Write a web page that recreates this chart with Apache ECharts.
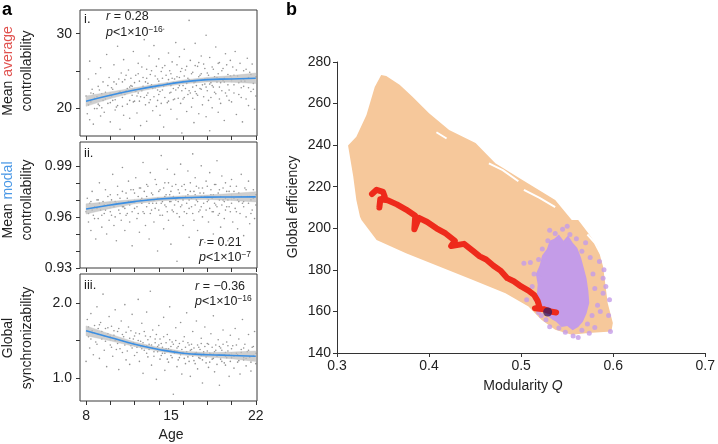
<!DOCTYPE html>
<html><head><meta charset="utf-8">
<script src="https://cdn.jsdelivr.net/npm/echarts@6/dist/echarts.min.js"></script>
<style>html,body{margin:0;padding:0;background:#fff}#c{width:718px;height:444px}</style>
</head><body><div id="c"></div>
<script>
// ---------- Panel a data ----------
const ageTicks = [8,10,12,14,16,18,20,22];
const ageLabels = [8,15,22];
const fitAges = [8,10,12,14,16,18,20,22];

const fitAvg = [20.9,21.7,22.4,23.0,23.5,23.8,23.9,24.0];
const bandAvg = [0.7,0.45,0.3,0.25,0.25,0.3,0.45,0.7];
const fitModal = [0.9647,0.9670,0.9690,0.9705,0.9713,0.9716,0.9717,0.9718];
const bandModal = [0.003,0.002,0.0013,0.0011,0.0011,0.0013,0.002,0.003];
const fitSync = [1.63,1.54,1.45,1.38,1.33,1.31,1.30,1.29];
const bandSync = [0.065,0.045,0.03,0.025,0.025,0.03,0.045,0.07];

const avgTickVals = [20,25,30], avgLabelVals = [20,30];
const modalTickVals = [0.93,0.94,0.95,0.96,0.97,0.98,0.99], modalLabelVals = [0.93,0.96,0.99];
const syncTickVals = [1.0,1.5,2.0], syncLabelVals = [1.0,2.0];

const avgPoints = [
[8.0,21.6],[8.1,19.2],[8.2,23.9],[8.3,26.3],[8.3,18.4],[8.4,20.8],[8.5,22.5],[8.6,17.8],[8.7,21.3],[8.8,24.6],[8.9,19.9],[9.0,22.9],[9.1,20.3],[9.2,25.4],[9.2,18.9],[9.3,21.9],[9.4,23.5],[9.5,19.4],[9.6,22.1],[9.7,27.2],[9.8,20.6],[9.9,24.1],
[10.0,18.1],[10.1,22.7],[10.2,21.0],[10.3,25.8],[10.4,19.7],[10.5,23.2],[10.5,20.1],[10.6,28.3],[10.7,22.0],[10.8,17.1],[10.9,24.7],[11.0,21.4],[11.1,26.5],[11.1,19.0],[11.2,23.8],[11.3,22.3],[11.4,20.5],[11.5,25.1],[11.6,18.6],[11.7,23.0],[11.8,21.7],[11.9,27.6],
[12.0,20.9],[12.1,24.4],[12.1,22.2],[12.2,19.3],[12.3,26.0],[12.4,23.6],[12.5,17.6],[12.5,21.5],[12.6,25.5],[12.7,22.9],[12.8,29.2],[12.9,20.4],[13.0,24.0],[13.0,18.2],[13.1,23.3],[13.2,27.0],[13.3,21.1],[13.4,25.0],[13.5,19.6],[13.5,22.6],[13.6,28.4],[13.7,24.3],[13.8,20.2],[13.9,23.9],
[14.0,26.6],[14.0,21.8],[14.1,19.0],[14.2,24.9],[14.3,22.4],[14.4,30.6],[14.4,17.4],[14.5,25.7],[14.6,23.1],[14.7,20.7],[14.8,27.4],[14.9,22.0],[15.0,24.6],[15.0,19.8],[15.1,26.2],[15.2,23.4],[15.3,21.2],[15.4,28.8],[15.5,18.5],[15.5,24.2],[15.6,22.7],[15.7,26.9],[15.8,20.6],[15.9,25.3],[15.9,16.6],
[16.0,23.0],[16.1,27.9],[16.1,21.4],[16.2,25.1],[16.3,19.5],[16.4,24.0],[16.5,31.8],[16.5,22.3],[16.6,26.4],[16.7,20.1],[16.8,24.8],[16.9,18.0],[17.0,23.5],[17.0,28.7],[17.1,21.9],[17.2,25.6],[17.3,19.2],[17.4,24.4],[17.5,27.0],[17.5,22.5],[17.6,20.4],[17.7,25.9],[17.8,23.2],[17.9,29.8],[17.9,18.8],
[18.0,24.7],[18.1,21.0],[18.2,26.8],[18.2,16.9],[18.3,23.4],[18.4,20.0],[18.5,25.2],[18.6,22.1],[18.7,28.2],[18.8,24.1],[18.9,19.4],[19.0,26.1],[19.0,22.8],[19.1,20.6],[19.2,25.0],[19.3,23.7],[19.4,18.3],[19.5,27.3],[19.6,21.6],[19.7,24.5],[19.8,22.4],[19.9,26.4],
[20.0,20.8],[20.1,25.5],[20.2,23.1],[20.3,27.6],[20.4,19.1],[20.5,24.3],[20.6,21.8],[20.7,26.0],[20.8,22.7],[20.9,18.1],[21.0,25.0],[21.1,23.6],[21.2,21.2],[21.3,26.7],[21.4,20.3],[21.5,24.8],[21.6,22.2],[21.7,25.9],[21.8,23.3],[21.9,19.8],[22.0,24.2],
[8.6,21.9],[9.4,21.0],[10.2,22.5],[10.9,21.9],[11.6,22.8],[12.3,22.0],[12.9,23.5],[13.3,22.9],[13.9,22.4],[14.3,24.0],[14.8,23.8],[15.2,22.6],[15.7,24.1],[16.3,23.3],[16.8,22.8],[17.3,24.2],[17.8,23.9],[18.4,23.0],[18.9,24.6],[19.4,23.5],[20.2,24.4],[20.8,23.6],[21.4,24.1],[9.0,20.5],[11.0,23.5],[13.0,21.7],[15.0,23.0],[17.0,22.2],[19.0,23.9],[21.0,22.9],
[8.2,20.4],[8.4,22.0],[8.7,19.9],[8.9,21.5],[9.1,22.4],[9.3,20.0],[9.6,21.2],[9.8,23.0],[10.0,20.7],[10.1,21.6],[10.3,23.5],[10.4,21.1],[10.6,20.3],[10.7,23.9],[10.8,22.2],[11.0,20.2],[11.2,21.8],[11.3,24.4],[11.4,22.6],[11.6,21.0],[11.7,24.0],[11.8,22.9],[11.9,20.8],[12.0,23.4],[12.2,21.6],[12.3,24.6],[12.4,20.9],[12.6,22.3],[12.7,24.1],[12.8,21.4],[13.0,25.2],[13.1,22.0],[13.2,20.7],[13.3,24.5],[13.4,23.1],[13.6,21.5],[13.7,22.7],[13.8,25.6],[13.9,21.0],[14.0,23.6],[14.1,22.2],[14.2,20.6],[14.3,25.4],[14.4,22.9],[14.5,21.4],[14.6,24.4],[14.7,23.3],[14.8,20.9],[14.9,25.0],[15.0,22.1],[15.1,24.0],[15.2,21.1],[15.3,23.9],[15.4,22.4],[15.5,25.8],[15.6,21.3],[15.7,23.0],[15.8,24.9],[15.9,22.3],[16.0,21.2],[16.1,24.3],[16.2,22.6],[16.3,25.6],[16.4,21.8],[16.5,23.8],[16.6,22.0],[16.7,24.6],[16.8,21.3],[16.9,23.4],[17.0,25.7],[17.1,23.0],[17.2,21.7],[17.3,26.1],[17.4,22.6],[17.5,24.6],[17.6,23.1],[17.7,21.5],[17.8,25.3],[17.9,22.8],[18.0,22.3],[18.1,24.4],[18.2,23.2],[18.3,21.4],[18.4,25.5],[18.5,22.8],[18.6,24.2],[18.7,21.9],[18.8,23.5],[18.9,26.0],[19.0,21.2],[19.1,23.4],[19.2,22.3],[19.3,25.3],[19.4,24.0],[19.5,22.0],[19.6,25.8],[19.7,23.1],[19.8,21.0],[19.9,24.3],[20.0,23.8],[20.2,22.0],[20.4,25.1],[20.6,23.4],[20.8,21.4],[21.0,23.9],[21.2,25.2],[21.4,22.7],[21.6,24.5],[21.8,22.5],[22.0,21.6]
];

const modalPoints = [
[8.0,0.963],[8.1,0.971],[8.2,0.957],[8.3,0.968],[8.4,0.952],[8.5,0.975],[8.6,0.961],[8.7,0.966],[8.8,0.947],[8.9,0.970],[9.0,0.959],[9.1,0.980],[9.2,0.964],[9.3,0.954],[9.4,0.969],[9.5,0.962],[9.6,0.976],[9.7,0.950],[9.8,0.967],[9.9,0.958],
[10.0,0.973],[10.1,0.961],[10.2,0.985],[10.3,0.955],[10.4,0.969],[10.5,0.946],[10.6,0.978],[10.7,0.964],[10.8,0.971],[10.9,0.958],[11.0,0.989],[11.1,0.966],[11.2,0.952],[11.3,0.974],[11.4,0.962],[11.5,0.981],[11.6,0.957],[11.7,0.969],[11.8,0.943],[11.9,0.976],
[12.0,0.965],[12.1,0.983],[12.2,0.959],[12.3,0.972],[12.4,0.951],[12.5,0.977],[12.6,0.968],[12.7,0.992],[12.8,0.962],[12.9,0.955],[13.0,0.979],[13.1,0.970],[13.2,0.947],[13.3,0.986],[13.4,0.964],[13.5,0.973],[13.6,0.957],[13.7,0.982],[13.8,0.968],[13.9,0.940],
[14.0,0.975],[14.1,0.961],[14.2,0.996],[14.3,0.969],[14.4,0.953],[14.5,0.980],[14.6,0.966],[14.7,0.988],[14.8,0.958],[14.9,0.973],[15.0,0.944],[15.1,0.978],[15.2,0.963],[15.3,0.985],[15.4,0.970],[15.5,0.934],[15.6,0.976],[15.7,0.960],[15.8,0.991],[15.9,0.967],
[16.0,0.955],[16.1,0.979],[16.2,0.972],[16.3,0.962],[16.4,0.987],[16.5,0.948],[16.6,0.975],[16.7,0.966],[16.8,0.997],[16.9,0.958],[17.0,0.983],[17.1,0.970],[17.2,0.952],[17.3,0.977],[17.4,0.964],[17.5,0.990],[17.6,0.960],[17.7,0.974],[17.8,0.945],[17.9,0.981],
[18.0,0.969],[18.1,0.957],[18.2,0.986],[18.3,0.973],[18.4,0.963],[18.5,0.950],[18.6,0.979],[18.7,0.967],[18.8,0.993],[18.9,0.961],[19.0,0.976],[19.1,0.954],[19.2,0.984],[19.3,0.970],[19.4,0.959],[19.5,0.980],[19.6,0.966],[19.7,0.946],[19.8,0.975],[19.9,0.963],
[20.0,0.982],[20.1,0.957],[20.2,0.971],[20.3,0.965],[20.4,0.978],[20.5,0.953],[20.6,0.974],[20.7,0.962],[20.8,0.985],[20.9,0.968],[21.0,0.949],[21.1,0.977],[21.2,0.960],[21.3,0.972],[21.4,0.981],[21.5,0.956],[21.6,0.970],[21.7,0.964],[21.8,0.976],[21.9,0.959],[22.0,0.973],
[8.5,0.964],[9.5,0.967],[10.5,0.968],[11.5,0.969],[12.5,0.970],[13.5,0.968],[14.5,0.972],[15.5,0.971],[16.5,0.970],[17.5,0.972],[18.5,0.973],[19.5,0.971],[20.5,0.970],[21.5,0.972],[9.0,0.970],[11.0,0.966],[13.0,0.972],[15.0,0.969],[17.0,0.973],[19.0,0.970],[21.0,0.969],
[8.2,0.962],[8.4,0.969],[8.7,0.959],[8.9,0.965],[9.1,0.968],[9.3,0.961],[9.6,0.964],[9.8,0.972],[10.0,0.963],[10.1,0.970],[10.3,0.966],[10.4,0.960],[10.6,0.973],[10.7,0.968],[10.8,0.962],[11.0,0.975],[11.2,0.965],[11.3,0.961],[11.4,0.971],[11.6,0.967],[11.7,0.976],[11.8,0.963],[11.9,0.969],[12.0,0.974],[12.2,0.966],[12.3,0.962],[12.4,0.977],[12.6,0.971],[12.7,0.963],[12.8,0.975],[13.0,0.966],[13.1,0.978],[13.2,0.968],[13.3,0.962],[13.4,0.974],[13.6,0.970],[13.7,0.965],[13.8,0.979],[13.9,0.971],[14.0,0.964],[14.1,0.976],[14.2,0.968],[14.3,0.961],[14.4,0.977],[14.5,0.967],[14.6,0.973],[14.7,0.963],[14.8,0.980],[14.9,0.969],[15.0,0.975],[15.1,0.964],[15.2,0.972],[15.3,0.967],[15.4,0.979],[15.5,0.962],[15.6,0.969],[15.7,0.974],[15.8,0.966],[15.9,0.978],[16.0,0.970],[16.1,0.963],[16.2,0.976],[16.3,0.968],[16.4,0.973],[16.5,0.965],[16.6,0.980],[16.7,0.971],[16.8,0.962],[16.9,0.975],[17.0,0.967],[17.1,0.978],[17.2,0.969],[17.3,0.963],[17.4,0.974],[17.5,0.966],[17.6,0.977],[17.7,0.968],[17.8,0.972],[17.9,0.964],[18.0,0.978],[18.1,0.970],[18.2,0.965],[18.3,0.976],[18.4,0.971],[18.5,0.963],[18.6,0.968],[18.7,0.979],[18.8,0.966],[18.9,0.974],[19.0,0.962],[19.1,0.972],[19.2,0.967],[19.3,0.977],[19.4,0.969],[19.5,0.964],[19.6,0.975],[19.7,0.970],[19.8,0.966],[19.9,0.978],[20.0,0.968],[20.2,0.975],[20.4,0.963],[20.6,0.969],[20.8,0.972],[21.0,0.966],[21.2,0.976],[21.4,0.968],[21.6,0.962],[21.8,0.971],[22.0,0.967]
];

const syncPoints = [
[8.0,1.22],[8.1,1.78],[8.2,1.55],[8.3,1.40],[8.4,1.86],[8.5,1.63],[8.6,1.31],[8.7,1.70],[8.8,1.48],[8.9,1.95],[9.0,1.58],[9.1,1.26],[9.2,1.74],[9.3,1.52],[9.4,2.12],[9.5,1.37],[9.6,1.66],[9.7,1.15],[9.8,1.59],[9.9,1.82],
[10.0,1.44],[10.1,1.69],[10.2,1.29],[10.3,1.57],[10.4,1.91],[10.5,1.38],[10.6,1.62],[10.7,1.11],[10.8,1.50],[10.9,1.76],[11.0,1.34],[11.1,1.55],[11.2,1.98],[11.3,1.24],[11.4,1.47],[11.5,1.68],[11.6,1.18],[11.7,1.43],[11.8,1.85],[11.9,1.52],
[12.0,1.30],[12.1,1.60],[12.2,1.41],[12.3,2.05],[12.4,1.22],[12.5,1.49],[12.6,1.73],[12.7,1.06],[12.8,1.37],[12.9,1.56],[13.0,1.88],[13.1,1.28],[13.2,1.45],[13.3,2.16],[13.4,1.17],[13.5,1.64],[13.6,1.35],[13.7,1.52],[13.8,0.98],[13.9,1.42],
[14.0,1.70],[14.1,1.25],[14.2,1.46],[14.3,1.33],[14.4,1.81],[14.5,1.10],[14.6,1.39],[14.7,1.58],[14.8,1.21],[14.9,1.95],[15.0,1.30],[15.1,1.48],[15.2,0.78],[15.3,1.36],[15.4,1.67],[15.5,1.15],[15.6,1.42],[15.7,1.27],[15.8,1.74],[15.9,1.05],
[16.0,1.34],[16.1,1.55],[16.2,1.19],[16.3,1.87],[16.4,1.28],[16.5,1.44],[16.6,1.02],[16.7,1.38],[16.8,1.62],[16.9,1.23],[17.0,1.32],[17.1,1.76],[17.2,1.12],[17.3,1.41],[17.4,1.26],[17.5,1.53],[17.6,0.93],[17.7,1.35],[17.8,1.68],[17.9,1.20],
[18.0,1.46],[18.1,1.14],[18.2,1.33],[18.3,1.59],[18.4,1.25],[18.5,1.83],[18.6,1.08],[18.7,1.37],[18.8,1.29],[18.9,1.51],[19.0,0.90],[19.1,1.40],[19.2,1.22],[19.3,1.64],[19.4,1.31],[19.5,1.17],[19.6,1.48],[19.7,1.36],[19.8,1.02],[19.9,1.57],
[20.0,1.27],[20.1,1.43],[20.2,1.13],[20.3,1.66],[20.4,1.33],[20.5,1.21],[20.6,1.52],[20.7,1.05],[20.8,1.38],[20.9,1.78],[21.0,1.24],[21.1,1.45],[21.2,1.16],[21.3,1.35],[21.4,1.58],[21.5,1.28],[21.6,1.09],[21.7,1.41],[21.8,1.30],[21.9,1.62],[22.0,1.19],
[8.5,1.60],[9.5,1.56],[10.5,1.51],[11.5,1.47],[12.5,1.42],[13.5,1.40],[14.5,1.36],[15.5,1.35],[16.5,1.32],[17.5,1.30],[18.5,1.32],[19.5,1.29],[20.5,1.31],[21.5,1.28],[9.0,1.66],[11.0,1.50],[13.0,1.43],[15.0,1.37],[17.0,1.33],[19.0,1.31],[21.0,1.27],
[8.2,1.68],[8.4,1.52],[8.7,1.60],[8.9,1.45],[9.1,1.71],[9.3,1.62],[9.6,1.49],[9.8,1.67],[10.0,1.55],[10.1,1.41],[10.3,1.63],[10.4,1.50],[10.6,1.46],[10.7,1.66],[10.8,1.39],[11.0,1.58],[11.2,1.44],[11.3,1.61],[11.4,1.36],[11.6,1.53],[11.7,1.63],[11.8,1.40],[11.9,1.47],[12.0,1.56],[12.2,1.34],[12.3,1.50],[12.4,1.59],[12.6,1.39],[12.7,1.47],[12.8,1.62],[13.0,1.33],[13.1,1.51],[13.2,1.38],[13.3,1.55],[13.4,1.44],[13.6,1.29],[13.7,1.47],[13.8,1.58],[13.9,1.35],[14.0,1.44],[14.1,1.52],[14.2,1.30],[14.3,1.41],[14.4,1.55],[14.5,1.33],[14.6,1.47],[14.7,1.25],[14.8,1.39],[14.9,1.51],[15.0,1.42],[15.1,1.27],[15.2,1.45],[15.3,1.33],[15.4,1.50],[15.5,1.40],[15.6,1.24],[15.7,1.46],[15.8,1.31],[15.9,1.38],[16.0,1.49],[16.1,1.26],[16.2,1.41],[16.3,1.35],[16.4,1.47],[16.5,1.22],[16.6,1.37],[16.7,1.45],[16.8,1.29],[16.9,1.40],[17.0,1.19],[17.1,1.34],[17.2,1.44],[17.3,1.27],[17.4,1.38],[17.5,1.46],[17.6,1.24],[17.7,1.33],[17.8,1.42],[17.9,1.28],[18.0,1.36],[18.1,1.45],[18.2,1.21],[18.3,1.32],[18.4,1.41],[18.5,1.26],[18.6,1.35],[18.7,1.44],[18.8,1.18],[18.9,1.31],[19.0,1.42],[19.1,1.25],[19.2,1.37],[19.3,1.45],[19.4,1.20],[19.5,1.34],[19.6,1.27],[19.7,1.43],[19.8,1.31],[19.9,1.22],[20.0,1.39],[20.2,1.29],[20.4,1.44],[20.6,1.23],[20.8,1.34],[21.0,1.40],[21.2,1.26],[21.4,1.37],[21.6,1.21],[21.8,1.42],[22.0,1.33]
];

// ---------- Panel b data ----------
const nullRegion = [
[0.348,273.8],[0.3535,273.3],[0.368,269],[0.382,263.3],[0.4,255.3],[0.4218,247.3],[0.4505,241],[0.472,231.3],[0.501,223.3],[0.537,213.6],[0.555,204],[0.562,204],[0.573,197.6],[0.583,191.2],[0.589,181.6],[0.594,164],[0.5996,154.4],[0.598,150.4],[0.573,149.6],[0.555,148.8],[0.537,151.2],[0.522,156],[0.508,162.4],[0.483,168.8],[0.447,175.2],[0.411,181.6],[0.375,188],[0.343,194.4],[0.3266,204],[0.325,205.6],[0.321,213.6],[0.3176,225],[0.312,239.8],[0.321,244],[0.332,254.5],[0.341,268]
];
const regionGaps = [
[[0.408,246.2],[0.419,243.2]],
[[0.465,231.2],[0.48,228],[0.497,222.6]],
[[0.503,218.5],[0.52,214.6],[0.537,210.2]],
[[0.572,197],[0.58,193],[0.586,188]]
];
const trajectory = [
[0.338,216.5],[0.343,218.5],[0.350,217.5],[0.352,215],[0.347,213.5],[0.346,210],[0.347,214],[0.355,213.5],[0.365,211.5],[0.375,209],[0.385,206],[0.384,199.5],[0.389,205],[0.398,203],[0.408,200],[0.418,197.5],[0.428,194],[0.424,191.5],[0.438,192.5],[0.448,189],[0.455,186.5],[0.462,185],[0.47,182],[0.478,179.5],[0.485,176],[0.492,174.5],[0.50,172],[0.508,170],[0.514,168],[0.518,165],[0.52,162],[0.515,161.5],[0.525,161],[0.532,160],[0.538,159.5]
];
const cloudCore = [
[0.541,197],[0.546,194],[0.551,196.5],[0.556,193],[0.561,190.5],[0.565,186],[0.568,181],[0.571,176],[0.573,170],[0.574,164],[0.571,159],[0.567,155],[0.562,152.5],[0.556,151],[0.55,153],[0.544,152.5],[0.538,155],[0.531,157],[0.525,160],[0.52,164],[0.517,168],[0.518,173],[0.516,178],[0.52,182],[0.523,187],[0.528,190],[0.531,194],[0.536,195]
];
const cloudPoints = [
[0.531,199],[0.503,183.2],[0.51,183.5],[0.506,165.6],[0.585,184],[0.589,176],[0.596,165.6],[0.589,168.8],[0.597,150.4],[0.5565,148.2],[0.531,152.6],[0.58,152.3],[0.519,159.5],[0.545,199.5],[0.553,197],[0.56,195],[0.566,189],[0.575,186],[0.578,178],[0.58,171],[0.583,163],[0.577,158],[0.572,154],[0.566,151],[0.548,150],[0.541,152],[0.527,156],[0.522,158],[0.516,166],[0.512,172],[0.514,178],[0.519,185],[0.523,190],[0.529,194],[0.537,197.5],[0.55,201],[0.592,172],[0.586,160],[0.574,149.5],[0.562,147.5],[0.536,157],[0.52,176],[0.525,186],[0.57,193],[0.59,180],[0.595,158]
];
const observed = [[0.5288,159.7]];

// ---------- chart ----------
const FONT = 'Liberation Sans, Arial, Helvetica, sans-serif';
const chart = echarts.init(document.getElementById('c'), null, {renderer:'canvas'});

function bandSeries(idx, fit, hw){
  return {
    type:'custom', xAxisIndex:idx, yAxisIndex:idx, silent:true, z:3,
    data: fitAges.map((a,i)=>[a, fit[i]-hw[i], fit[i]+hw[i]]),
    encode:{x:0, y:[1,2]},
    renderItem:function(params, api){
      const i = params.dataIndex;
      if(i >= fitAges.length-1) return null;
      const p1 = api.coord([fitAges[i], fit[i]-hw[i]]);
      const p2 = api.coord([fitAges[i+1], fit[i+1]-hw[i+1]]);
      const p3 = api.coord([fitAges[i+1], fit[i+1]+hw[i+1]]);
      const p4 = api.coord([fitAges[i], fit[i]+hw[i]]);
      return {type:'polygon', shape:{points:[p1,p2,p3,p4]}, style:{fill:'rgba(190,190,190,0.75)', stroke:'rgba(190,190,190,0.75)', lineWidth:0.5}};
    }
  };
}
function polySeries(idx, pts, color, z){
  return {
    type:'custom', xAxisIndex:idx, yAxisIndex:idx, silent:true, z:z,
    data: pts, encode:{x:0,y:1},
    renderItem:function(params, api){
      if(params.dataIndex !== 0) return null;
      return {type:'polygon', shape:{points: pts.map(p=>api.coord(p))}, style:{fill:color}};
    }
  };
}

const axisTxt = {fontFamily:FONT, fontSize:14, color:'#222'};
const grids = [
  {left:80, top:10, width:177, height:126},
  {left:80, top:142, width:177, height:126},
  {left:80, top:274, width:177, height:127},
  {left:337, top:62, width:371, height:291}
].map((g,i)=>Object.assign(g, i<3 ? {show:true, borderColor:'#3a3a3a', borderWidth:1} : {show:false}));

const xAxes = [0,1,2].map(i=>({
  type:'value', gridIndex:i, min:7.5, max:22.1,
  axisLine:{show:false}, splitLine:{show:false},
  axisTick:{show:true, customValues:ageTicks, length:4, lineStyle:{color:'#333'}},
  axisLabel:{show:i===2, customValues:ageLabels, margin:8, ...axisTxt}
}));
xAxes.push({
  type:'value', gridIndex:3, min:0.3, max:0.7, interval:0.1,
  axisLine:{show:true, lineStyle:{color:'#333', width:1}}, splitLine:{show:false},
  axisTick:{show:true, length:4, lineStyle:{color:'#333'}},
  axisLabel:{margin:6, formatter:v=>v.toFixed(1), ...axisTxt}
});

const yAxes = [
  {type:'value', gridIndex:0, min:16.2, max:33.2,
   axisTick:{show:true, customValues:avgTickVals, length:4, lineStyle:{color:'#333'}},
   axisLabel:{customValues:avgLabelVals, margin:8, ...axisTxt}},
  {type:'value', gridIndex:1, min:0.93, max:1.004,
   axisTick:{show:true, customValues:modalTickVals, length:4, lineStyle:{color:'#333'}},
   axisLabel:{customValues:modalLabelVals, margin:8, formatter:v=>v.toFixed(2), ...axisTxt}},
  {type:'value', gridIndex:2, min:0.69, max:2.39,
   axisTick:{show:true, customValues:syncTickVals, length:4, lineStyle:{color:'#333'}},
   axisLabel:{customValues:syncLabelVals, margin:8, formatter:v=>v.toFixed(1), ...axisTxt}}
].map(a=>Object.assign(a,{axisLine:{show:false}, splitLine:{show:false}}));
yAxes.push({
  type:'value', gridIndex:3, min:140, max:280, interval:20,
  axisLine:{show:true, lineStyle:{color:'#333', width:1}}, splitLine:{show:false},
  axisTick:{show:true, length:4, lineStyle:{color:'#333'}},
  axisLabel:{margin:6, ...axisTxt}
});

const scatterStyle = {color:'#777'};
const fitLine = (idx, fit)=>({type:'line', xAxisIndex:idx, yAxisIndex:idx, data:fitAges.map((a,i)=>[a,fit[i]]), smooth:true, symbol:'none', silent:true, z:4, lineStyle:{color:'#3b8fe3', width:1.6}});

const series = [
  {type:'scatter', xAxisIndex:0, yAxisIndex:0, data:avgPoints, symbolSize:1.6, itemStyle:scatterStyle, silent:true, z:2},
  bandSeries(0, fitAvg, bandAvg), fitLine(0, fitAvg),
  {type:'scatter', xAxisIndex:1, yAxisIndex:1, data:modalPoints, symbolSize:1.6, itemStyle:scatterStyle, silent:true, z:2},
  bandSeries(1, fitModal, bandModal), fitLine(1, fitModal),
  {type:'scatter', xAxisIndex:2, yAxisIndex:2, data:syncPoints, symbolSize:1.6, itemStyle:scatterStyle, silent:true, z:2},
  bandSeries(2, fitSync, bandSync), fitLine(2, fitSync),
  polySeries(3, nullRegion, '#f6c89b', 1),
  ...regionGaps.map(g=>({type:'line', xAxisIndex:3, yAxisIndex:3, data:g, symbol:'none', silent:true, z:1.5, lineStyle:{color:'#fff', width:2}})),
  polySeries(3, cloudCore, '#c49ce8', 2),
  {type:'scatter', xAxisIndex:3, yAxisIndex:3, data:cloudPoints, symbolSize:5, itemStyle:{color:'#c49ce8'}, silent:true, z:2},
  {type:'line', xAxisIndex:3, yAxisIndex:3, data:trajectory, symbol:'none', silent:true, z:3, lineStyle:{color:'#ee2a1b', width:6, join:'round', cap:'round'}},
  {type:'scatter', xAxisIndex:3, yAxisIndex:3, data:observed, symbolSize:9, itemStyle:{color:'#3d1d5e'}, silent:true, z:4}
];

const t = (x,y,text,extra)=>({type:'text', x:x, y:y, silent:true, z:10, style:Object.assign({text:text, fontFamily:FONT, fontSize:13, fill:'#222', align:'left', verticalAlign:'middle'}, extra||{})});
const richAnn = {
  i:{fontStyle:'italic', fontFamily:FONT, fontSize:12.5, fill:'#222'},
  n:{fontFamily:FONT, fontSize:12.5, fill:'#222'},
  s:{fontFamily:FONT, fontSize:8.5, fill:'#222', verticalAlign:'top', padding:[0,0,6,0]}
};
const rtxt = (x,y,text)=>t(x,y,text,{rich:richAnn});

const graphic = [
  t(2,10,'a',{fontSize:18, fontWeight:'bold', fill:'#000'}),
  t(286,10,'b',{fontSize:18, fontWeight:'bold', fill:'#000'}),
  t(84,19,'i.'), t(84,153,'ii.'), t(84,285,'iii.'),
  rtxt(106,17,'{i|r}{n| = 0.28}'),
  rtxt(106,33,'{i|p}{n|<1×10}{s|−16}'),
  rtxt(199,243,'{i|r}{n| = 0.21}'),
  rtxt(199,258,'{i|p}{n|<1×10}{s|−7}'),
  rtxt(195,287,'{i|r}{n| = −0.36}'),
  rtxt(195,302,'{i|p}{n|<1×10}{s|−16}'),
  {type:'text', x:18, y:71, rotation:Math.PI/2, silent:true, style:{text:'Mean {r|average}\ncontrollability', fontFamily:FONT, fontSize:14, fill:'#222', align:'center', verticalAlign:'middle', lineHeight:19, rich:{r:{fill:'#e0524f', fontFamily:FONT, fontSize:14}}}},
  {type:'text', x:18, y:200, rotation:Math.PI/2, silent:true, style:{text:'Mean {b|modal}\ncontrollability', fontFamily:FONT, fontSize:14, fill:'#222', align:'center', verticalAlign:'middle', lineHeight:19, rich:{b:{fill:'#4a98e6', fontFamily:FONT, fontSize:14}}}},
  {type:'text', x:18, y:338, rotation:Math.PI/2, silent:true, style:{text:'Global\nsynchronizability', fontFamily:FONT, fontSize:14, fill:'#222', align:'center', verticalAlign:'middle', lineHeight:19}},
  t(171,435,'Age',{fontSize:14, align:'center'}),
  {type:'text', x:293, y:207, rotation:Math.PI/2, silent:true, style:{text:'Global efficiency', fontFamily:FONT, fontSize:14, fill:'#222', align:'center', verticalAlign:'middle'}},
  t(523,386,'Modularity {q|Q}',{fontSize:14, align:'center', rich:{q:{fontStyle:'italic', fontFamily:FONT, fontSize:14, fill:'#222'}}})
];

chart.setOption({animation:false, backgroundColor:'#fff', grid:grids, xAxis:xAxes, yAxis:yAxes, series:series, graphic:graphic});
</script>
</body></html>
